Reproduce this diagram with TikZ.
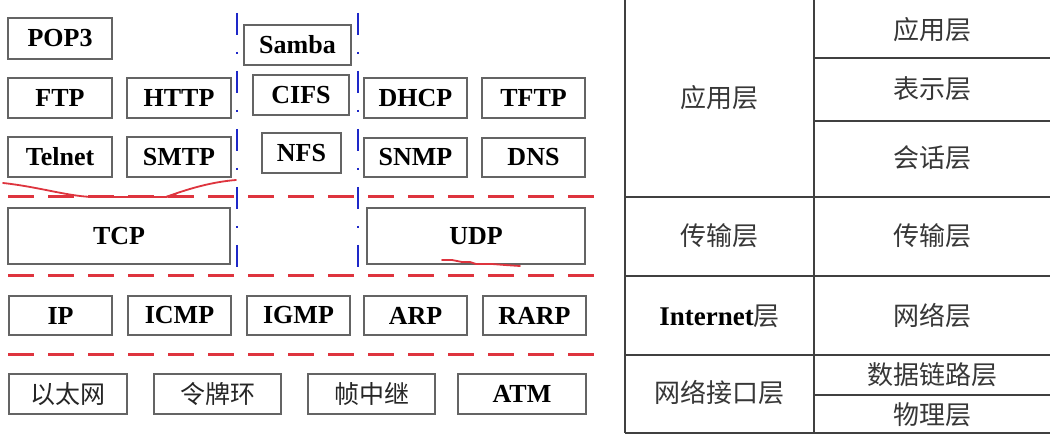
\documentclass[tikz,border=0pt]{standalone}
\usepackage{fontspec}
\setmainfont{Liberation Serif}
\newfontfamily\cjk{Noto Sans CJK SC}
\definecolor{rline}{RGB}{222,52,62}
\definecolor{bline}{RGB}{30,40,200}
\definecolor{boxgray}{RGB}{100,100,100}
\definecolor{tgray}{RGB}{55,55,55}
\begin{document}
\begin{tikzpicture}[x=1pt,y=-1pt,
  box/.style={draw=boxgray, line width=1.3pt, fill=white, inner sep=0pt, outer sep=0pt,
    minimum width=104pt, minimum height=40pt, font=\fontsize{26}{30}\selectfont\bfseries},
  cbox/.style={box, font=\fontsize{25}{30}\selectfont\cjk, text=black!85},
  reddash/.style={draw=rline, line width=3pt, dash pattern=on 26pt off 14pt},
  bluedash/.style={draw=bline, line width=2.8pt, dash pattern=on 22pt off 17pt on 2pt off 17pt},
  gridline/.style={draw=black!75, line width=1.4pt},
  tlabel/.style={font=\fontsize{26}{30}\selectfont\cjk, text=tgray, inner sep=0pt},
  scribble/.style={draw=rline, line width=1.8pt, line cap=round, line join=round}]

\fill[white] (0,0) rectangle (1050,438);
\useasboundingbox (0,0) rectangle (1050,438);

% red dashed layer separators
\draw[reddash] (8,197) -- (598,197);
\draw[reddash] (8,276) -- (598,276);
\draw[reddash] (8,355) -- (598,355);

% blue dash-dot separators
\draw[bluedash] (237,13) -- (237,268);
\draw[bluedash] (358,13) -- (358,268);

% application protocols
\node[box, minimum height=41pt] (pop3) at (60,38.5) {POP3};
\node[box] (ftp) at (60,98) {FTP};
\node[box] (http) at (179,98) {HTTP};
\node[box] (telnet) at (60,157) {Telnet};
\node[box] (smtp) at (179,157) {SMTP};
\node[box, minimum width=107pt] (samba) at (297.5,45) {Samba};
\node[box, minimum width=96pt] (cifs) at (301,95) {CIFS};
\node[box, minimum width=79pt] (nfs) at (301.5,153) {NFS};
\node[box, minimum width=103pt] (dhcp) at (415.5,98) {DHCP};
\node[box, minimum width=103pt] (tftp) at (533.5,98) {TFTP};
\node[box, minimum width=103pt, minimum height=39pt] (snmp) at (415.5,157.5) {SNMP};
\node[box, minimum width=103pt, minimum height=39pt] (dns) at (533.5,157.5) {DNS};

% transport
\node[box, minimum width=222pt, minimum height=56pt] (tcp) at (119,236) {TCP};
\node[box, minimum width=218pt, minimum height=56pt] (udp) at (476,236) {UDP};

% internet
\node[box, minimum width=103pt, minimum height=39pt] (ip) at (60.5,315.5) {IP};
\node[box, minimum width=103pt, minimum height=39pt] (icmp) at (179.5,315.5) {ICMP};
\node[box, minimum width=103pt, minimum height=39pt] (igmp) at (298.5,315.5) {IGMP};
\node[box, minimum width=103pt, minimum height=39pt] (arp) at (415.5,315.5) {ARP};
\node[box, minimum width=103pt, minimum height=39pt] (rarp) at (534.5,315.5) {RARP};

% network interface
\node[cbox, minimum width=118pt] (eth) at (68,394) {以太网};
\node[cbox, minimum width=127pt] (token) at (217.5,394) {令牌环};
\node[cbox, minimum width=127pt] (frame) at (371.5,394) {帧中继};
\node[box, minimum width=128pt] (atm) at (522,394) {ATM};

% red hand-drawn marks
\draw[scribble] (3,183) .. controls (40,187) and (70,197) .. (95,197)
  -- (166,197) .. controls (185,190) and (210,182) .. (236,180);
\draw[scribble] (166,197) -- (176,194);
\draw[scribble] (442,260) -- (452,260) -- (462,262) -- (470,262) -- (476,264)
  -- (492,264) -- (505,265) -- (520,266);

% comparison table
\draw[gridline] (625,0) -- (625,433);
\draw[gridline] (814,0) -- (814,433);
\draw[gridline] (814,58) -- (1050,58);
\draw[gridline] (814,121) -- (1050,121);
\draw[gridline] (625,197) -- (1050,197);
\draw[gridline] (625,276) -- (1050,276);
\draw[gridline] (625,355) -- (1050,355);
\draw[gridline] (814,395) -- (1050,395);
\draw[gridline] (625,433) -- (1050,433);

\node[tlabel] (tcpapp) at (719.5,98) {应用层};
\node[tlabel] (osiapp) at (932,30) {应用层};
\node[tlabel] (osipre) at (932,89) {表示层};
\node[tlabel] (osises) at (932,158) {会话层};
\node[tlabel] (tcptr) at (719.5,236) {传输层};
\node[tlabel] (ositr) at (932,236) {传输层};
\node[tlabel] (tcpnet) at (719.5,316) {{\color{black}\fontsize{27}{30}\selectfont\rmfamily\bfseries Internet}层};
\node[tlabel] (osinet) at (932,316) {网络层};
\node[tlabel] (tcpif) at (719.5,393) {网络接口层};
\node[tlabel] (osidl) at (932,375) {数据链路层};
\node[tlabel] (osiph) at (932,415) {物理层};
\end{tikzpicture}
\end{document}
